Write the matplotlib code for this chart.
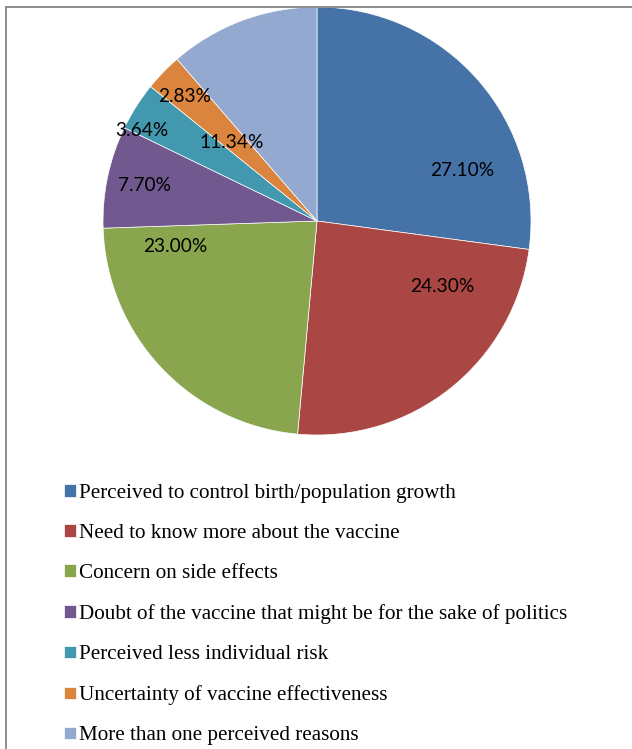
import matplotlib
matplotlib.use('Agg')
import matplotlib.pyplot as plt
from matplotlib.lines import Line2D

reasons = [
    "Perceived to control birth/population growth",
    "Need to know more about the vaccine",
    "Concern on side effects",
    "Doubt of the vaccine that might be for the sake of politics",
    "Perceived less individual risk",
    "Uncertainty of vaccine effectiveness",
    "More than one perceived reasons",
]
shares = [27.10, 24.30, 23.00, 7.70, 3.64, 2.83, 11.34]
colors = ["#4572A7", "#AA4643", "#89A54E", "#71588F", "#4198AF", "#DB843D", "#93A9CF"]

# label spots (pie units, center 0,0 radius 1) as placed in the original
label_pos = [(0.678, 0.234), (0.584, -0.308), (-0.664, -0.121), (-0.808, 0.164),
             (-0.818, 0.425), (-0.617, 0.584), (-0.397, 0.369)]

W, H = 632, 749
fig = plt.figure(figsize=(W / 100, H / 100), dpi=100)

cx, cy, r = 317, 221, 214
ax = fig.add_axes([(cx - r) / W, (H - cy - r) / H, 2 * r / W, 2 * r / H])
wedges, _ = ax.pie(shares, colors=colors, startangle=90, counterclock=False,
                   radius=1, wedgeprops=dict(edgecolor="white", linewidth=0.5))
ax.set_xlim(-1, 1)
ax.set_ylim(-1, 1)
ax.set_aspect("equal")
ax.axis("off")

for v, (x, y) in zip(shares, label_pos):
    ax.text(x, y, f"{v:.2f}%", ha="center", va="center", fontsize=13.8,
            family="Lato", color="black")

fig.legend(wedges, reasons, loc="upper left", bbox_to_anchor=(64 / W, 1 - 484 / H),
           frameon=False, prop=dict(family="Liberation Serif", size=15.2),
           handlelength=0.55, handleheight=0.55, handletextpad=0.18,
           labelspacing=1.0, borderaxespad=0, borderpad=0)

# outer frame (only left and top edges visible in the crop)
fig.add_artist(Line2D([6 / W, 6 / W], [0, 1 - 7 / H], transform=fig.transFigure,
                      color="#8c8c8c", lw=1.4))
fig.add_artist(Line2D([6 / W, 1], [1 - 7 / H, 1 - 7 / H], transform=fig.transFigure,
                      color="#8c8c8c", lw=1.4))

fig.savefig("out.png", dpi=100)
